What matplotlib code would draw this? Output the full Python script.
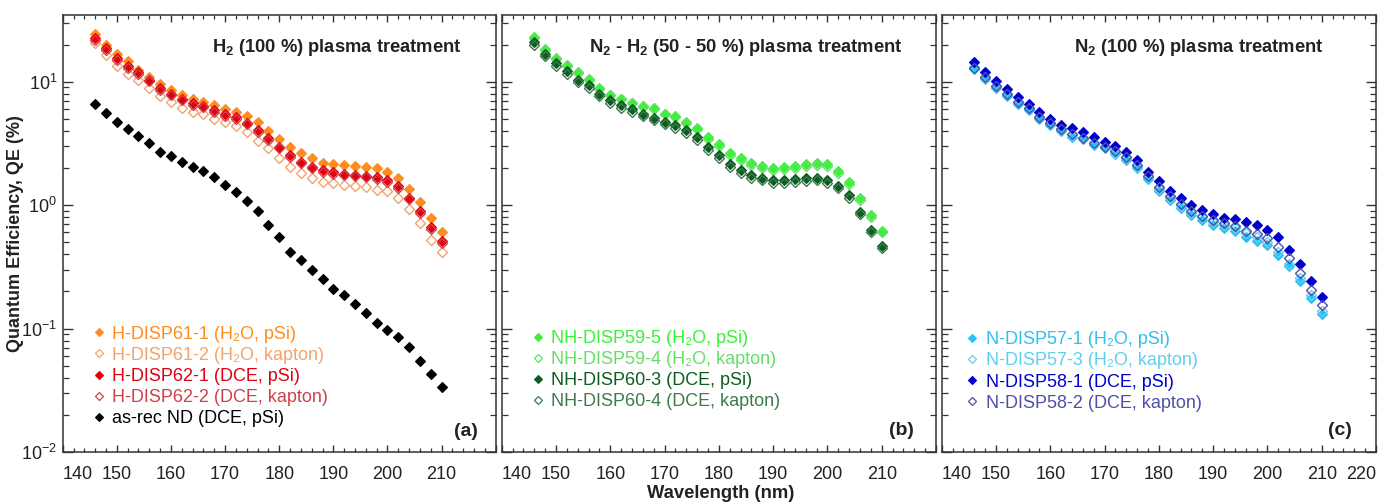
import matplotlib
matplotlib.use("Agg")
import matplotlib.pyplot as plt
from matplotlib.ticker import LogLocator, FixedLocator, NullFormatter
from matplotlib.lines import Line2D

plt.rcParams['font.family'] = ['Liberation Sans', 'DejaVu Sans']
plt.rcParams['mathtext.fontset'] = 'custom'
plt.rcParams['mathtext.rm'] = 'Liberation Sans'
plt.rcParams['mathtext.bf'] = 'Liberation Sans:bold'
plt.rcParams['mathtext.it'] = 'Liberation Sans:italic'

# ---------------- data ----------------
wavelength = [146, 148, 150, 152, 154, 156, 158, 160, 162, 164, 166, 168, 170, 172, 174, 176, 178,
              180, 182, 184, 186, 188, 190, 192, 194, 196, 198, 200, 202, 204, 206, 208, 210]

# panel (a) H2 plasma
h61_1 = [24.4, 19.9, 16.8, 14.6, 12.5, 10.9, 9.6, 8.6, 7.85, 7.3, 6.86, 6.44, 6.05, 5.69, 5.28, 4.73, 4.0,
         3.40, 2.97, 2.62, 2.39, 2.21, 2.14, 2.11, 2.07, 2.05, 1.99, 1.87, 1.67, 1.35, 1.05, 0.785, 0.61]
h61_2 = [20.5, 16.3, 13.4, 11.6, 10.3, 8.95, 7.62, 6.86, 6.17, 5.69, 5.42, 4.94, 4.73, 4.36, 3.88, 3.33, 2.89,
         2.43, 2.05, 1.81, 1.67, 1.55, 1.50, 1.46, 1.42, 1.39, 1.33, 1.29, 1.14, 0.93, 0.72, 0.525, 0.42]
h62_1 = [22.5, 18.7, 15.5, 13.4, 12.0, 10.4, 8.9, 8.0, 7.3, 6.73, 6.37, 5.87, 5.42, 5.13, 4.65, 4.05, 3.47,
         2.97, 2.55, 2.25, 2.05, 1.93, 1.85, 1.79, 1.76, 1.73, 1.68, 1.60, 1.42, 1.15, 0.89, 0.66, 0.51]
h62_2 = [21.8, 18.1, 15.0, 13.0, 11.6, 10.1, 8.6, 7.75, 7.08, 6.53, 6.18, 5.69, 5.26, 4.98, 4.51, 3.93, 3.37,
         2.88, 2.47, 2.18, 1.99, 1.87, 1.79, 1.74, 1.71, 1.68, 1.63, 1.55, 1.38, 1.12, 0.86, 0.64, 0.49]
asrec = [6.56, 5.60, 4.73, 4.13, 3.65, 3.16, 2.71, 2.50, 2.22, 2.05, 1.89, 1.68, 1.46, 1.27, 1.08, 0.89, 0.69,
         0.55, 0.418, 0.358, 0.297, 0.250, 0.211, 0.186, 0.157, 0.134, 0.110, 0.0969, 0.0857, 0.0711, 0.0549, 0.0428, 0.0339]

# panel (b) N2-H2 plasma
nh59_5 = [23.2, 18.5, 15.5, 13.7, 12.0, 10.6, 8.95, 7.85, 7.30, 6.77, 6.25, 6.05, 5.52, 5.25, 4.73, 4.24, 3.55,
          3.10, 2.62, 2.39, 2.18, 2.09, 2.01, 2.05, 2.09, 2.15, 2.18, 2.14, 1.89, 1.53, 1.14, 0.83, 0.62]
nh59_4 = [22.7, 18.1, 15.2, 13.4, 11.8, 10.4, 8.8, 7.75, 7.2, 6.7, 6.3, 6.1, 5.5, 5.15, 4.62, 4.12, 3.45,
          3.0, 2.53, 2.30, 2.10, 2.01, 1.94, 1.97, 2.01, 2.07, 2.10, 2.06, 1.82, 1.47, 1.10, 0.80, 0.60]
nh60_3 = [20.9, 16.8, 14.2, 12.2, 10.4, 9.33, 8.0, 7.07, 6.44, 5.98, 5.52, 5.10, 4.73, 4.44, 4.05, 3.53, 2.95,
          2.55, 2.14, 1.93, 1.76, 1.67, 1.60, 1.60, 1.63, 1.65, 1.67, 1.60, 1.44, 1.20, 0.88, 0.63, 0.47]
nh60_4 = [19.9, 16.0, 13.5, 11.6, 9.9, 8.9, 7.6, 6.72, 6.12, 5.68, 5.24, 4.85, 4.5, 4.22, 3.85, 3.35, 2.80,
          2.42, 2.03, 1.83, 1.67, 1.59, 1.52, 1.52, 1.55, 1.57, 1.59, 1.52, 1.37, 1.14, 0.84, 0.60, 0.45]

# panel (c) N2 plasma
n57_1 = [12.7, 10.6, 8.9, 7.62, 6.65, 5.87, 5.03, 4.44, 3.97, 3.58, 3.43, 3.06, 2.89, 2.59, 2.32, 1.99, 1.63,
         1.30, 1.10, 0.946, 0.835, 0.762, 0.694, 0.653, 0.614, 0.549, 0.516, 0.473, 0.393, 0.320, 0.243, 0.178, 0.132]
n57_3 = [13.1, 11.0, 9.3, 7.9, 6.9, 6.1, 5.2, 4.6, 4.1, 3.7, 3.5, 3.15, 2.95, 2.65, 2.4, 2.05, 1.68,
         1.35, 1.14, 0.98, 0.87, 0.80, 0.73, 0.69, 0.65, 0.59, 0.55, 0.50, 0.415, 0.335, 0.255, 0.186, 0.138]
n58_1 = [14.4, 12.0, 10.1, 8.67, 7.52, 6.65, 5.70, 5.03, 4.44, 4.18, 3.93, 3.58, 3.26, 3.03, 2.71, 2.32, 1.87,
         1.56, 1.30, 1.14, 1.01, 0.916, 0.846, 0.785, 0.771, 0.729, 0.685, 0.632, 0.550, 0.436, 0.334, 0.243, 0.180]
n58_2 = [13.0, 10.9, 9.2, 7.9, 6.9, 6.1, 5.2, 4.6, 4.1, 3.75, 3.5, 3.2, 2.95, 2.75, 2.45, 2.1, 1.72,
         1.40, 1.18, 1.02, 0.90, 0.82, 0.76, 0.71, 0.68, 0.62, 0.583, 0.54, 0.46, 0.37, 0.28, 0.204, 0.155]

xtick_values = [140, 150, 160, 170, 180, 190, 200, 210, 220]

panels = [
    dict(title=r"H$_{\mathbf{2}}$ (100 %) plasma treatment", tag="(a)",
         series=[(h61_1, "H-DISP61-1 (H\u2082O, pSi)", "#FF8C1E", True),
                 (h61_2, "H-DISP61-2 (H\u2082O, kapton)", "#F2A46E", False),
                 (h62_1, "H-DISP62-1 (DCE, pSi)", "#E0000E", True),
                 (h62_2, "H-DISP62-2 (DCE, kapton)", "#D0404A", False),
                 (asrec, "as-rec ND (DCE, pSi)", "#000000", True)]),
    dict(title=r"N$_{\mathbf{2}}$ - H$_{\mathbf{2}}$ (50 - 50 %) plasma treatment", tag="(b)",
         series=[(nh59_5, "NH-DISP59-5 (H\u2082O, pSi)", "#38F238", True),
                 (nh59_4, "NH-DISP59-4 (H\u2082O, kapton)", "#66DD66", False),
                 (nh60_3, "NH-DISP60-3 (DCE, pSi)", "#0B5E1E", True),
                 (nh60_4, "NH-DISP60-4 (DCE, kapton)", "#3C7A50", False)]),
    dict(title=r"N$_{\mathbf{2}}$ (100 %) plasma treatment", tag="(c)",
         series=[(n57_1, "N-DISP57-1 (H\u2082O, pSi)", "#2EC0F0", True),
                 (n57_3, "N-DISP57-3 (H\u2082O, kapton)", "#5FD0F2", False),
                 (n58_1, "N-DISP58-1 (DCE, pSi)", "#0000CC", True),
                 (n58_2, "N-DISP58-2 (DCE, kapton)", "#5050A8", False)]),
]

W, H = 1389, 504
fig = plt.figure(figsize=(W / 100, H / 100), dpi=100)

ax_px = [(62.7, 433.0), (501.7, 434.3), (941.7, 434.3)]
bottom_px, top_px = 452.0, 14.5
title_pos = [0.922, 0.922, 0.879]
tag_pos = [(0.959, 0.046), (0.948, 0.05), (0.945, 0.05)]
leg_pos = [(0.066, 0.289), (0.066, 0.279), (0.054, 0.276)]

for i, (p, (lpx, wpx)) in enumerate(zip(panels, ax_px)):
    ax = fig.add_axes([lpx / W, (H - bottom_px) / H, wpx / W, (bottom_px - top_px) / H])
    ax.set_yscale('log')
    ax.set_xlim(140, 220)
    ax.set_ylim(0.01, 35)
    handles = []
    for vals, lab, col, filled in p['series']:
        if filled:
            ax.plot(wavelength, vals, linestyle='none', marker='D', markersize=5.6,
                    markerfacecolor=col, markeredgecolor=col, markeredgewidth=0.8)
            h = Line2D([], [], linestyle='none', marker='D', markersize=4.0,
                       markerfacecolor=col, markeredgecolor=col, markeredgewidth=0.8)
        else:
            ax.plot(wavelength, vals, linestyle='none', marker='D', markersize=5.2,
                    markerfacecolor='none', markeredgecolor=col, markeredgewidth=1.0)
            h = Line2D([], [], linestyle='none', marker='D', markersize=3.8,
                       markerfacecolor='none', markeredgecolor=col, markeredgewidth=0.9)
        handles.append((h, lab, col))

    # ticks
    ax.xaxis.set_major_locator(FixedLocator(xtick_values))
    labels = [str(v) for v in xtick_values]
    if i < 2:
        labels[-1] = ""
    ax.set_xticklabels(labels)
    ax.xaxis.set_minor_locator(FixedLocator(list(range(140, 221, 2))))
    ax.yaxis.set_major_locator(LogLocator(base=10, numticks=10))
    ax.yaxis.set_minor_locator(LogLocator(base=10, subs=[2, 3, 4, 5, 6, 7, 8, 9], numticks=20))
    ax.yaxis.set_minor_formatter(NullFormatter())
    ax.tick_params(axis='both', which='both', direction='in', top=True, right=True,
                   colors='#333333', labelcolor='#222222', labelsize=13)
    ax.tick_params(axis='x', which='major', length=5, width=1.0, pad=10)
    ax.tick_params(axis='x', which='minor', length=3, width=0.9)
    ax.tick_params(axis='y', which='major', length=7, width=1.0, pad=4)
    ax.tick_params(axis='y', which='minor', length=4, width=0.9)
    if i > 0:
        ax.tick_params(axis='y', which='both', labelleft=False)
    tl = ax.get_xticklabels()
    tl[0].set_horizontalalignment('left')
    if i == 2:
        tl[-1].set_horizontalalignment('right')
    for s in ax.spines.values():
        s.set_linewidth(1.1)
        s.set_color('#333333')

    ax.text(title_pos[i], 0.915, p['title'], transform=ax.transAxes, ha='right', va='baseline',
            fontsize=13.2, fontweight='bold', color='#222222')
    ax.text(tag_pos[i][0], tag_pos[i][1], p['tag'], transform=ax.transAxes, ha='right', va='center',
            fontsize=14, fontweight='bold', color='#222222')

    leg = ax.legend([h for h, _, _ in handles], [l for _, l, _ in handles],
                    loc='upper left', bbox_to_anchor=leg_pos[i], frameon=False,
                    fontsize=13, handlelength=0.8, handletextpad=0.35, labelspacing=0.23,
                    borderpad=0, borderaxespad=0,
                    labelcolor=[c for _, _, c in handles])

fig.text(0.0108, 0.536, "Quantum Efficiency, QE (%)", rotation=90, ha='center', va='center',
         fontsize=13, fontweight='bold', color='#222222')
fig.text(0.519, 0.02, "Wavelength (nm)", ha='center', va='center',
         fontsize=13.2, fontweight='bold', color='#222222')

fig.savefig('out.png', dpi=100)
